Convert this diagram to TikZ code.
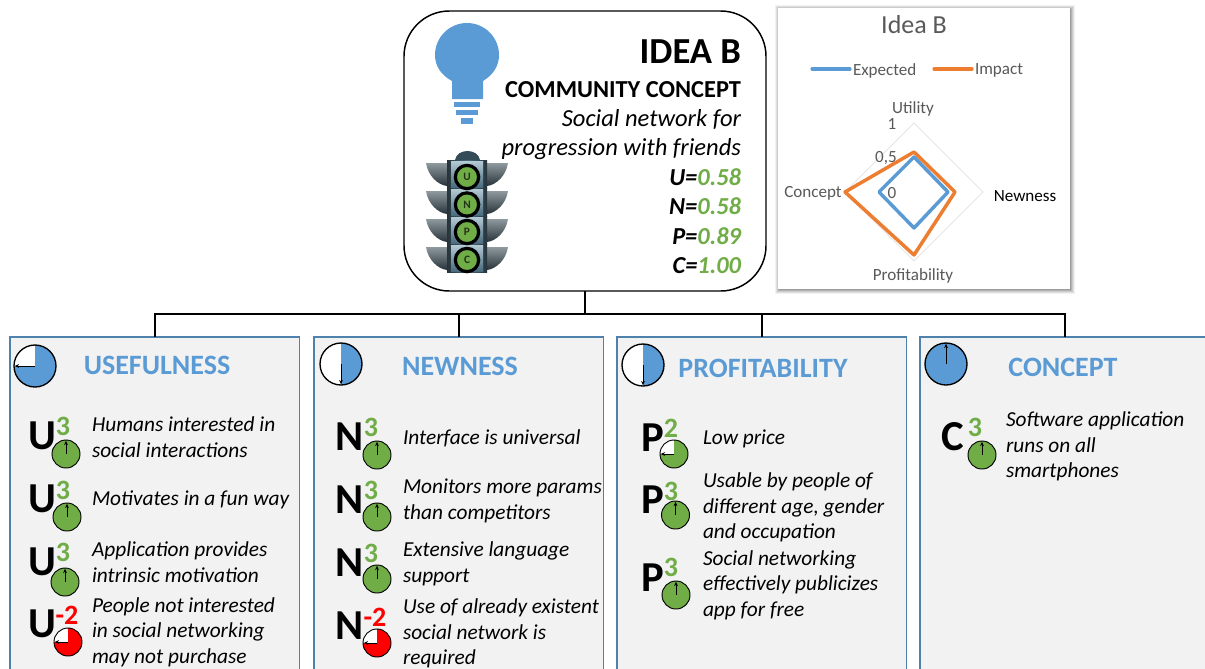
\documentclass[tikz,border=0pt]{standalone}
\usepackage{fontspec}
\setmainfont{Carlito}
\usetikzlibrary{arrows.meta}
\definecolor{cblue}{HTML}{5B9BD5}
\definecolor{corange}{HTML}{ED7D31}
\definecolor{cgreen}{HTML}{70AD47}
\definecolor{cred}{HTML}{FF0000}
\definecolor{cpanel}{HTML}{F2F2F2}
\definecolor{cedge}{HTML}{4F81AD}
\definecolor{cgrey}{HTML}{595959}
\definecolor{steeld}{HTML}{4A6C7E}
\definecolor{steell}{HTML}{B4CAD5}
\definecolor{visl}{HTML}{8E9A9E}
\definecolor{visd}{HTML}{27333A}
\tikzset{
  every node/.style={inner sep=0pt,outer sep=0pt},
  panelbox/.style={draw=cedge,line width=1pt,fill=cpanel,anchor=north west,minimum width=217pt,minimum height=258pt},
  ideabox/.style={draw=black,line width=1.1pt,fill=white,rounded corners=34pt,minimum width=271.5pt,minimum height=210pt},
  tree/.style={draw=black,line width=1.5pt},
  head/.style={text=cblue,font=\fontsize{21}{24}\selectfont\bfseries},
  itemtxt/.style={anchor=west,align=left,font=\fontsize{16}{19.2}\selectfont\itshape},
  bigl/.style={font=\fontsize{32}{34}\selectfont\bfseries},
  sup/.style={font=\fontsize{21}{22}\selectfont\bfseries},
  chart/.style={text=cgrey,font=\fontsize{12.8}{14}\selectfont},
  scoreline/.style={anchor=east,font=\fontsize{18.3}{20}\selectfont\bfseries\itshape},
  hand/.style={line width=.5pt,-{Stealth[length=3.2pt,width=2.8pt]}},
}
% name, x, y, radius(px), degrees filled clockwise from 12, colour, line width
\newcommand{\clk}[7]{%
  \begin{scope}[shift={(#2,#3)},x=.75pt,y=.75pt]
    \fill[white] (0,0) circle (#4);
    \fill[#6] (0,0) -- (90:#4) arc[start angle=90,delta angle=-#5,radius=#4] -- cycle;
    \node[circle,draw=black,line width=#7,minimum size=#4*1.5pt] (#1) at (0,0) {};
    \draw[hand] (#1.center) -- (90-#5:#4-.8);
  \end{scope}}
% id, letter x, letter y, letter, sup x, sup y, sup, colour
\newcommand{\scr}[8]{%
  \node[bigl] (#1l) at (#2,#3) {#4};
  \node[sup,text=#8] (#1s) at (#5,#6) {#7};}
\newcommand{\sco}[4]{\node[scoreline] (#1) at (741,#2) {#3=\textcolor{cgreen}{#4}};}
\begin{document}
\begin{tikzpicture}[x=.75pt,y=-.75pt]
\clip (0,0) rectangle (1205,668);
\useasboundingbox (0,0) rectangle (1205,668);
\fill[white] (0,0) rectangle (1205,668);

% panels
\node[panelbox] (pu) at (10,337) {};
\node[panelbox] (pn) at (314,337) {};
\node[panelbox] (pp) at (617,337) {};
\node[panelbox,minimum width=218pt] (pc) at (920,337) {};

% idea box
\node[ideabox] (idea) at (585,151) {};
\coordinate (bus) at (585,314);
\draw[tree,line width=2pt] (idea.south) -- (bus);
\draw[tree] (pu.north) |- (bus) -| (pc.north);
\draw[tree] (pn.north) -- (pn.north |- bus);
\draw[tree] (pp.north) -- (pp.north |- bus);

% bulb
\fill[cblue] (452,99) -- (452,81) .. controls (441,75) and (435,66) .. (435,55)
  arc[start angle=180,end angle=360,radius=32] .. controls (499,66) and (493,75) .. (483,81) -- (483,99) -- cycle;
\fill[cblue] (454,102) rectangle (480,107);
\fill[cblue] (456,110) rectangle (478,115);
\fill[cblue] (461,118) rectangle (473,124);

% traffic light
\fill[steeld!70!black] (455,160) .. controls (457,148) and (478,148) .. (480,160) -- cycle;
\foreach \yy in {163,191,219,247}{
  \shade[top color=visl,bottom color=visd] (447,\yy) -- (426,\yy) .. controls (428,\yy+13) and (438,\yy+22) .. (447,\yy+23) -- cycle;
  \shade[top color=visl,bottom color=visd] (487,\yy) -- (508,\yy) .. controls (506,\yy+13) and (496,\yy+22) .. (487,\yy+23) -- cycle;
}
\foreach \yy in {160,188,216,244}{
  \shade[left color=visd,right color=visd,middle color=steeld] (447,\yy) rectangle (487,\yy+28);
  \shade[top color=steell,bottom color=steeld] (451,\yy+1) rectangle (483,\yy+27);
}
\foreach \nm/\yy/\tx in {lu/177/U,ln/204.5/N,lp/232/P,lc/260/C}{
  \node[circle,draw=black,line width=2.4pt,fill=cgreen,minimum size=17.5pt,text=black!70!cgreen,font=\fontsize{8.5}{9}\selectfont\bfseries] (\nm) at (467,\yy) {\tx};
}

% idea text
\node[anchor=east,font=\fontsize{27.5}{30}\selectfont\bfseries] (t1) at (741,52) {IDEA B};
\node[anchor=east,font=\fontsize{18.3}{20}\selectfont\bfseries] (t2) at (741,89.5) {COMMUNITY CONCEPT};
\node[anchor=east,font=\fontsize{18.4}{20}\selectfont\itshape] (t3) at (741,119.5) {Social network for};
\node[anchor=east,font=\fontsize{18.4}{20}\selectfont\itshape] (t4) at (741,149.5) {progression with friends};
\sco{su}{177.5}{U}{0.58}
\sco{sn}{206.5}{N}{0.58}
\sco{sp}{236.5}{P}{0.89}
\sco{sc}{265.5}{C}{1.00}

% chart
\foreach \o/\op in {5/.05,4/.07,3/.09,2/.11,1/.13}{
  \fill[black,opacity=\op] (778-\o+2,8-\o+2) rectangle (1070+\o,289+\o);
}
\fill[white] (778,8) rectangle (1070,289);
\node[text=cgrey,font=\fontsize{19.5}{22}\selectfont] (ct) at (914,25) {Idea B};
\coordinate (e1) at (812,69); \coordinate (e2) at (850,69);
\coordinate (i1) at (934,69); \coordinate (i2) at (972,69);
\draw[cblue,line width=2.4pt,line cap=round] (e1) -- (e2);
\draw[corange,line width=2.4pt,line cap=round] (i1) -- (i2);
\node[chart,anchor=west] (le) at (853,70.5) {Expected};
\node[chart,anchor=west] (li) at (975,70.5) {Impact};
\draw[black!10,line width=.6pt] (914,123) -- (983,192) -- (914,261) -- (845,192) -- cycle;
\draw[cblue,line width=2.6pt,line join=round] (914,157) -- (948,192) -- (914,228) -- (879,192) -- cycle;
\draw[corange,line width=2.6pt,line join=round] (914,152) -- (955,192) -- (914,255) -- (845,192) -- cycle;
\node[chart] (cu) at (913,109) {Utility};
\node[chart] (c1) at (892,124) {1};
\node[chart] (c5) at (886,158.5) {0,5};
\node[chart] (c0) at (892,193) {0};
\node[chart] (cc) at (813,193) {Concept};
\node[chart,text=black] (cn) at (1025,196) {Newness};
\node[chart] (cp) at (913,276) {Profitability};

% headers
\node[head] (hu) at (157,365.5) {USEFULNESS};
\node[head] (hn) at (460,366.5) {NEWNESS};
\node[head] (hp) at (763,368.5) {PROFITABILITY};
\node[head] (hc) at (1063,367.5) {CONCEPT};
\clk{ku}{35}{366}{21}{270}{cblue}{1pt}
\clk{kn}{341}{364}{21}{180}{cblue}{1pt}
\clk{kp}{643}{365}{21}{180}{cblue}{1pt}
\clk{kc}{946}{364}{21}{360}{cblue}{1pt}

% usefulness
\scr{u1}{42}{436}{U}{63}{426}{3}{cgreen}
\clk{ku1}{66}{454}{14}{360}{cgreen}{.7pt}
\node[itemtxt] (tu1) at (92,437) {Humans interested in\\social interactions};
\scr{u2}{42}{499}{U}{63}{490}{3}{cgreen}
\clk{ku2}{67}{517}{14}{360}{cgreen}{.7pt}
\node[itemtxt] (tu2) at (92,499.5) {Motivates in a fun way};
\scr{u3}{42}{562}{U}{63}{552}{3}{cgreen}
\clk{ku3}{65}{582}{14}{360}{cgreen}{.7pt}
\node[itemtxt] (tu3) at (92,562) {Application provides\\intrinsic motivation};
\scr{u4}{42}{624}{U}{67}{615}{-2}{cred}
\clk{ku4}{68}{642}{14}{270}{cred}{.7pt}
\node[itemtxt] (tu4) at (92,632) {People not interested\\in social networking\\may not purchase};

% newness
\scr{n1}{350}{437}{N}{371}{427}{3}{cgreen}
\clk{kn1}{377}{455}{14}{360}{cgreen}{.7pt}
\node[itemtxt] (tn1) at (403,438.5) {Interface is universal};
\scr{n2}{350}{500}{N}{371}{490}{3}{cgreen}
\clk{kn2}{377}{517}{14}{360}{cgreen}{.7pt}
\node[itemtxt] (tn2) at (403,501) {Monitors more params\\than competitors};
\scr{n3}{350}{563}{N}{371}{553}{3}{cgreen}
\clk{kn3}{377}{579}{14}{360}{cgreen}{.7pt}
\node[itemtxt] (tn3) at (403,564) {Extensive language\\support};
\scr{n4}{350}{626}{N}{375}{617}{-2}{cred}
\clk{kn4}{377}{643}{14}{270}{cred}{.7pt}
\node[itemtxt] (tn4) at (403,633.5) {Use of already existent\\social network is\\required};

% profitability
\scr{p1}{653}{438}{P}{671}{428}{2}{cgreen}
\clk{kp1}{674}{454}{14}{270}{cgreen}{.7pt}
\node[itemtxt] (tp1) at (703,438.5) {Low price};
\scr{p2}{653}{500}{P}{671}{491}{3}{cgreen}
\clk{kp2}{675.5}{515}{14}{360}{cgreen}{.7pt}
\node[itemtxt] (tp2) at (703,507.5) {Usable by people of\\different age, gender\\and occupation};
\scr{p3}{653}{578}{P}{671}{567}{3}{cgreen}
\clk{kp3}{676}{595}{14}{360}{cgreen}{.7pt}
\node[itemtxt] (tp3) at (703,585) {Social networking\\effectively publicizes\\app for free};

% concept
\scr{c1}{953}{437}{C}{975}{427}{3}{cgreen}
\clk{kc1}{982}{455}{14}{360}{cgreen}{.7pt}
\node[itemtxt] (tc1) at (1006,446.5) {Software application\\runs on all\\smartphones};
\end{tikzpicture}
\end{document}
